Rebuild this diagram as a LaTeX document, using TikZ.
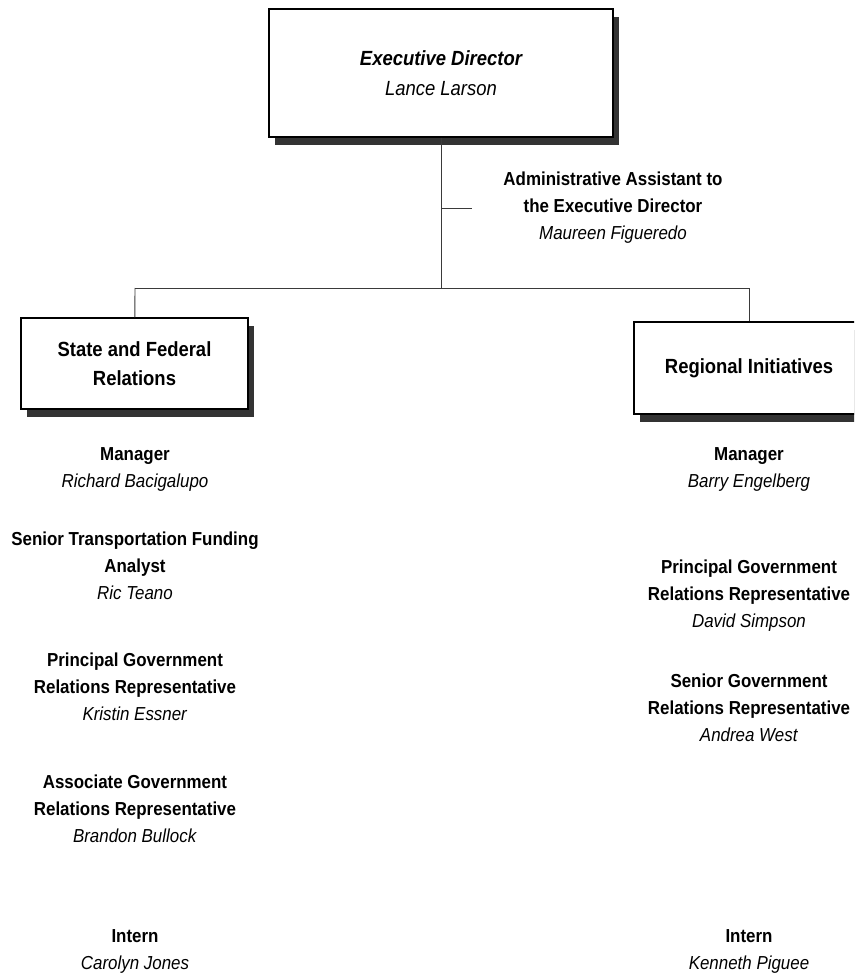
\documentclass[tikz,border=0pt]{standalone}
\usepackage{fontspec}
\setmainfont{Liberation Sans}[FakeStretch=0.9]
\usepackage{tikz}
\usetikzlibrary{positioning, shadows}
\definecolor{shade}{HTML}{333333}
\definecolor{wire}{HTML}{3A3A3A}

\begin{document}
\begin{tikzpicture}[
    x=1pt, y=-1pt,
    every node/.style={font=\fontsize{18.8}{27}\selectfont},
    unit/.style={rectangle, draw=black, fill=white, line width=1.4pt,
                 align=center, inner sep=0pt,
                 font=\fontsize{20.5}{29.5}\selectfont\bfseries,
                 drop shadow={shadow xshift=6pt, shadow yshift=-8pt,
                              fill=shade, opacity=1}},
    role/.style={align=center, inner sep=0pt},
    link/.style={line width=0.9pt, color=wire}
]
\useasboundingbox (0,0) rectangle (854,973);
\clip (0,0) rectangle (854,973);

% Director and office
\node[unit, minimum width=344pt, minimum height=128pt] (exec) at (441,73)
    {\itshape Executive Director\\{\mdseries\itshape Lance Larson}};
\node[role] (admin) at (613,208)
    {\textbf{Administrative Assistant to}\\\textbf{the Executive Director}\\\textit{Maureen Figueredo}};

% Divisions
\node[unit, minimum width=227pt, minimum height=91pt] (sf) at (134.5,363.5)
    {State and Federal\\Relations};
\node[unit, minimum width=230pt, minimum height=92pt] (ri) at (749,368)
    {Regional Initiatives};

% Tree lines
\coordinate (busL) at (135,288);
\coordinate (busR) at (749,288);
\coordinate (busM) at (exec.south |- busL);
\coordinate (adminTip) at (472,208);
\draw[link] (exec) -- (busM);
\draw[link] (exec.south |- adminTip) -- (adminTip);
\draw[link] (busL) -- (busR);
\draw[link] (busL) -- (sf);
\draw[link] (busR) -- (ri);

% State and Federal Relations staff
\node[role] (sfMgr) at (135,469)
    {\textbf{Manager}\\\textit{Richard Bacigalupo}};
\node[role] (sfAnalyst) at (135,566)
    {\textbf{Senior Transportation Funding}\\\textbf{Analyst}\\\textit{Ric Teano}};
\node[role] (sfPrincipal) at (135,687)
    {\textbf{Principal Government}\\\textbf{Relations Representative}\\\textit{Kristin Essner}};
\node[role] (sfAssoc) at (135,809)
    {\textbf{Associate Government}\\\textbf{Relations Representative}\\\textit{Brandon Bullock}};
\node[role] (sfIntern) at (135,951)
    {\textbf{Intern}\\\textit{Carolyn Jones}};

% Regional Initiatives staff
\node[role] (riMgr) at (749,469)
    {\textbf{Manager}\\\textit{Barry Engelberg}};
\node[role] (riPrincipal) at (749,596)
    {\textbf{Principal Government}\\\textbf{Relations Representative}\\\textit{David Simpson}};
\node[role] (riSenior) at (749,708)
    {\textbf{Senior Government}\\\textbf{Relations Representative}\\\textit{Andrea West}};
\node[role] (riIntern) at (749,951)
    {\textbf{Intern}\\\textit{Kenneth Piguee}};

\end{tikzpicture}
\end{document}
